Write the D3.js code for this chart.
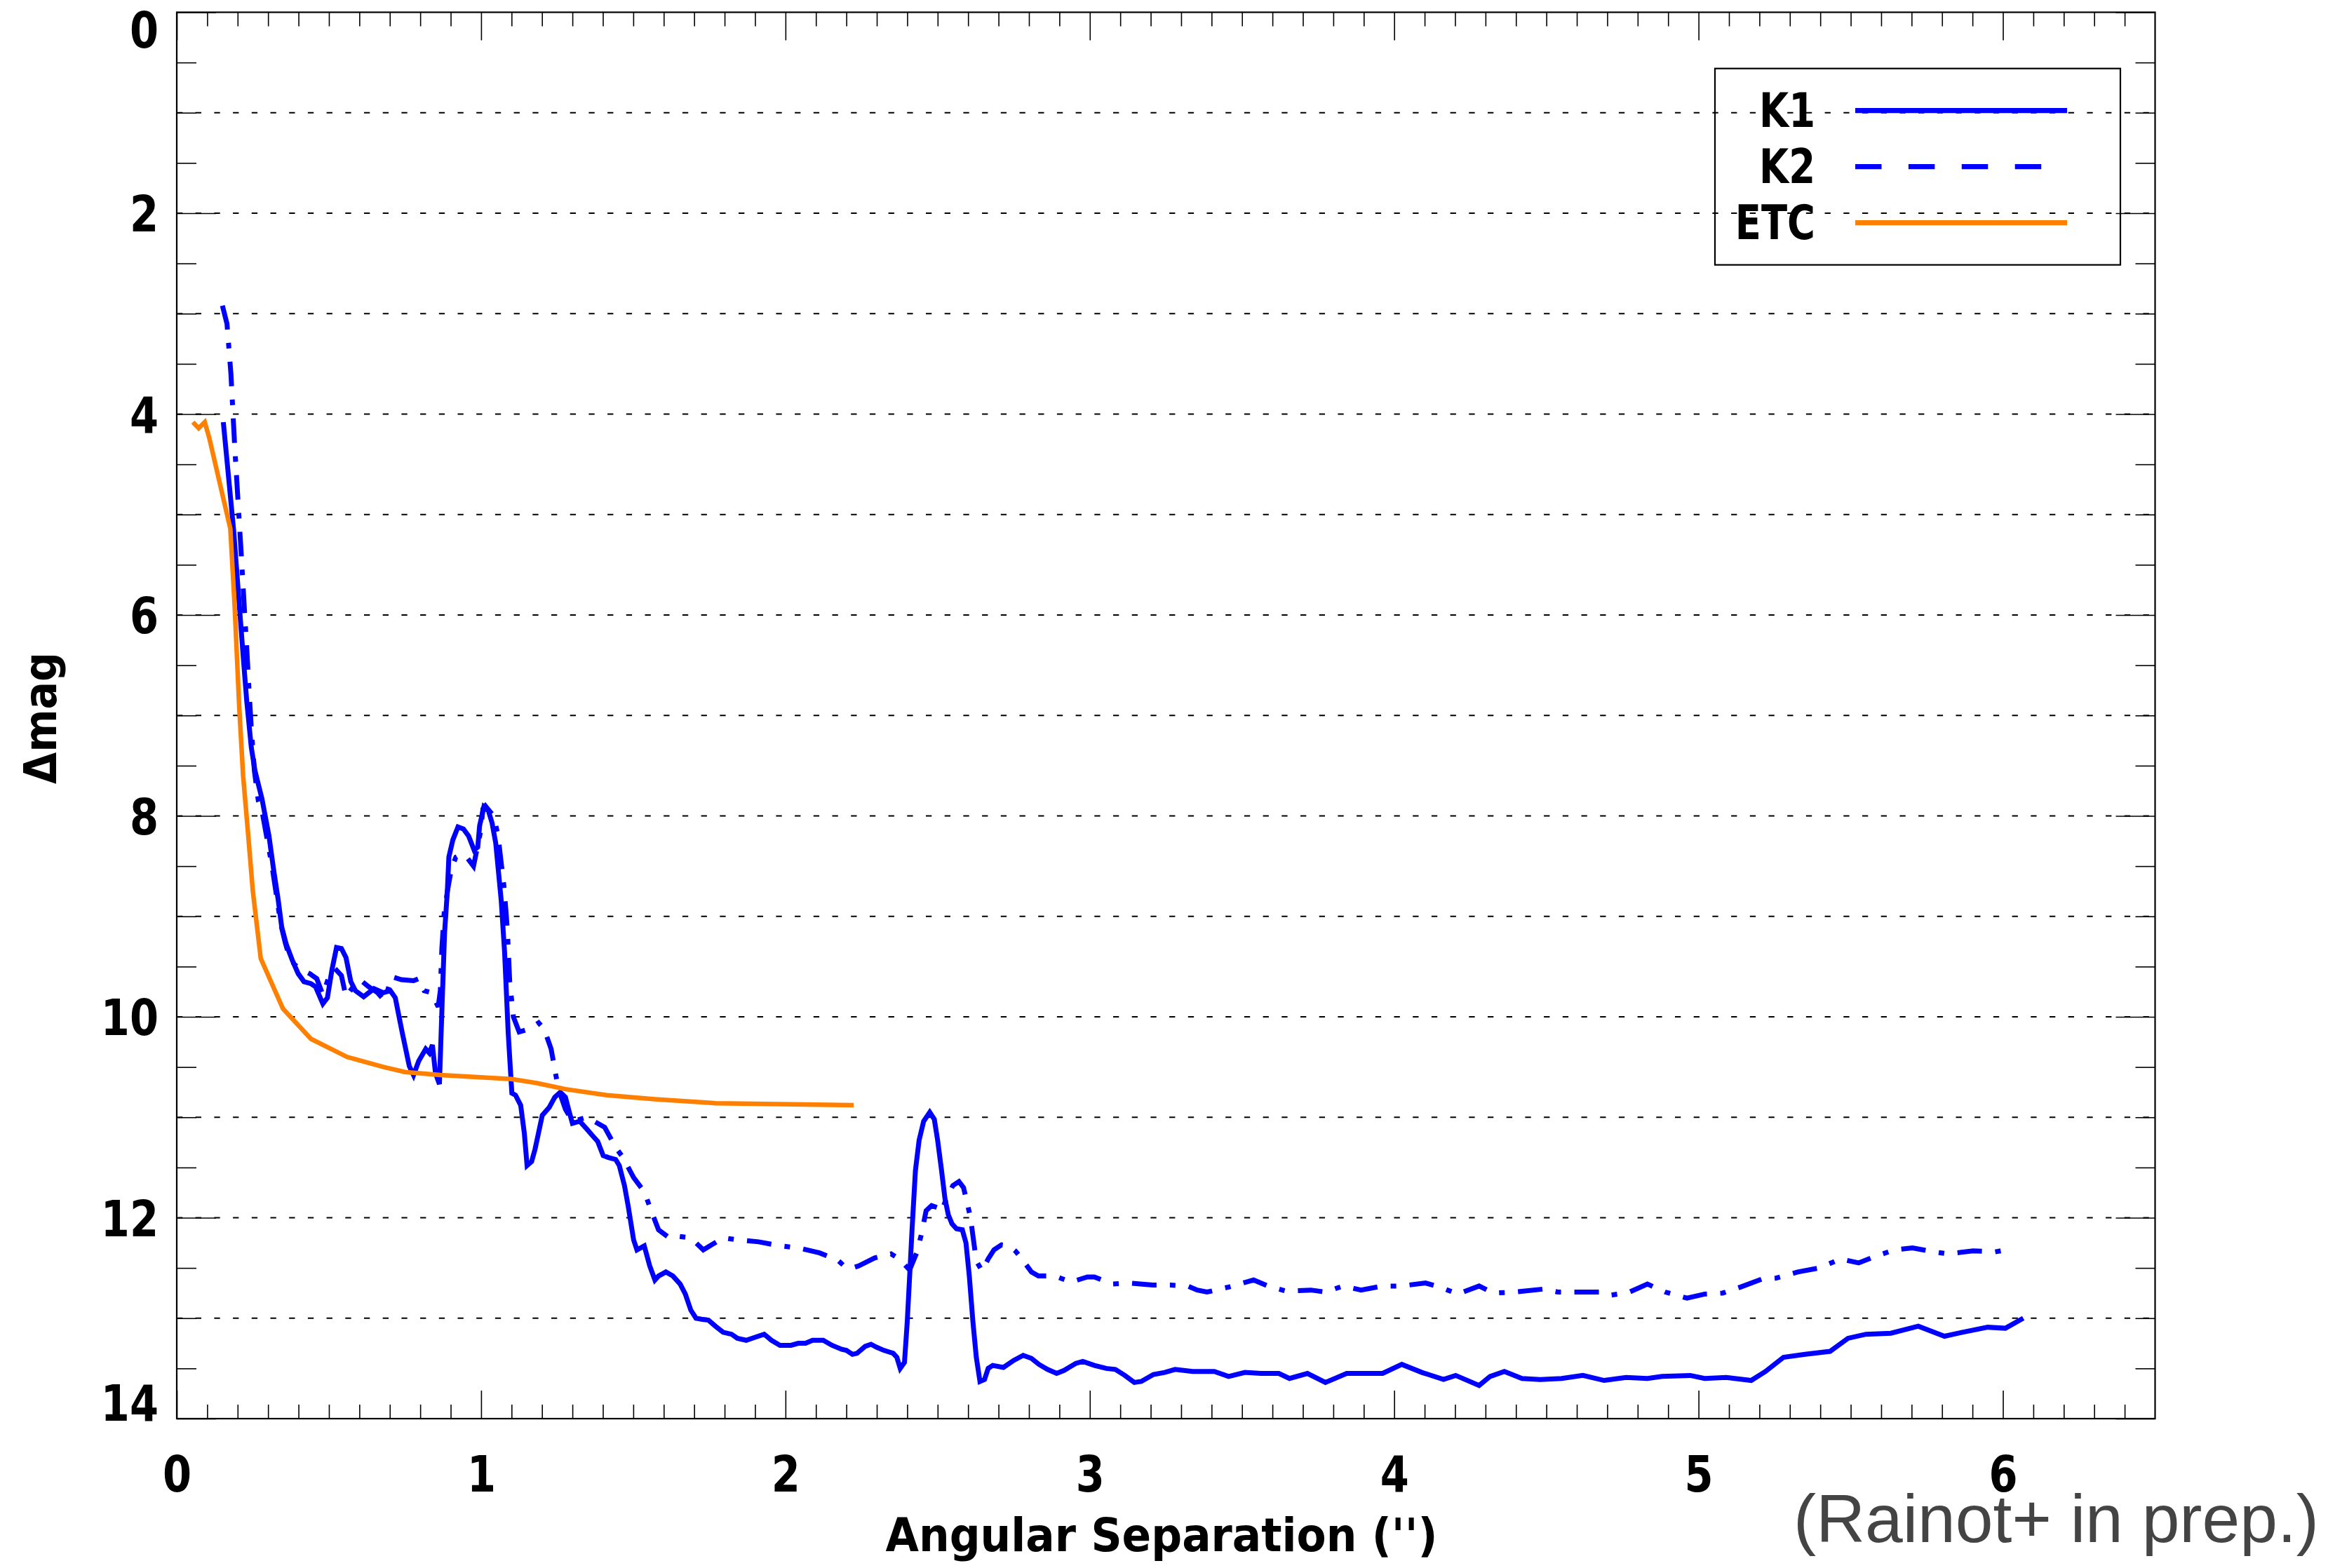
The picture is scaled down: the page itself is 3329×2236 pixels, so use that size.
<!DOCTYPE html>
<html><head><meta charset="utf-8">
<script src="https://cdn.jsdelivr.net/npm/d3@7"></script>
<style>body{margin:0;background:#fff}</style>
</head><body>
<svg id="c" width="3329" height="2236" xmlns="http://www.w3.org/2000/svg"></svg>
<script>
// ---------------- data (separation in arcsec, delta-mag) ----------------
const k1 = [[0.153,4.08],[0.187,5.16],[0.203,5.8],[0.218,6.4],[0.23,6.86],[0.245,7.32],[0.257,7.55],[0.28,7.83],[0.303,8.2],[0.318,8.53],[0.333,8.83],[0.345,9.11],[0.36,9.28],[0.38,9.44],[0.399,9.57],[0.418,9.65],[0.441,9.67],[0.456,9.70],[0.48,9.87],[0.495,9.81],[0.51,9.53],[0.525,9.31],[0.541,9.32],[0.556,9.41],[0.572,9.65],[0.587,9.74],[0.614,9.8],[0.648,9.72],[0.679,9.76],[0.702,9.74],[0.718,9.81],[0.741,10.16],[0.764,10.49],[0.778,10.58],[0.795,10.44],[0.818,10.32],[0.83,10.36],[0.84,10.28],[0.85,10.56],[0.863,10.67],[0.871,9.95],[0.88,9.16],[0.889,8.75],[0.894,8.41],[0.907,8.24],[0.924,8.11],[0.942,8.13],[0.959,8.2],[0.977,8.34],[0.989,8.31],[0.995,8.1],[1.009,7.91],[1.024,7.95],[1.036,8.07],[1.048,8.27],[1.066,8.84],[1.077,9.35],[1.089,10.16],[1.101,10.76],[1.113,10.78],[1.13,10.88],[1.142,11.16],[1.151,11.48],[1.166,11.44],[1.177,11.32],[1.201,10.98],[1.224,10.9],[1.242,10.8],[1.26,10.75],[1.277,10.8],[1.289,10.94],[1.3,11.06],[1.324,11.04],[1.348,11.12],[1.365,11.18],[1.383,11.24],[1.401,11.38],[1.418,11.4],[1.442,11.42],[1.454,11.48],[1.471,11.68],[1.483,11.88],[1.501,12.22],[1.512,12.32],[1.536,12.28],[1.554,12.48],[1.571,12.62],[1.583,12.58],[1.607,12.54],[1.63,12.58],[1.654,12.66],[1.671,12.76],[1.689,12.92],[1.706,13.0],[1.724,13.01],[1.747,13.02],[1.77,13.08],[1.795,13.14],[1.823,13.16],[1.842,13.2],[1.871,13.22],[1.9,13.19],[1.93,13.16],[1.954,13.22],[1.982,13.27],[2.018,13.27],[2.042,13.25],[2.066,13.25],[2.089,13.22],[2.124,13.22],[2.153,13.27],[2.185,13.31],[2.2,13.32],[2.22,13.36],[2.235,13.35],[2.262,13.28],[2.281,13.26],[2.3,13.29],[2.323,13.32],[2.354,13.35],[2.366,13.39],[2.377,13.5],[2.391,13.44],[2.4,13.04],[2.408,12.58],[2.416,12.11],[2.427,11.53],[2.439,11.23],[2.454,11.04],[2.474,10.95],[2.489,11.02],[2.5,11.23],[2.512,11.51],[2.524,11.81],[2.535,11.97],[2.547,12.06],[2.562,12.11],[2.581,12.12],[2.593,12.25],[2.604,12.58],[2.616,13.04],[2.627,13.39],[2.639,13.63],[2.654,13.61],[2.666,13.5],[2.681,13.47],[2.716,13.49],[2.75,13.42],[2.781,13.37],[2.808,13.4],[2.833,13.46],[2.861,13.51],[2.891,13.55],[2.915,13.52],[2.954,13.45],[2.977,13.43],[3.015,13.47],[3.054,13.5],[3.084,13.51],[3.115,13.57],[3.146,13.64],[3.169,13.63],[3.209,13.56],[3.246,13.54],[3.28,13.51],[3.338,13.53],[3.374,13.53],[3.409,13.53],[3.456,13.58],[3.51,13.54],[3.562,13.55],[3.621,13.55],[3.656,13.6],[3.715,13.55],[3.774,13.64],[3.844,13.55],[3.962,13.55],[4.025,13.46],[4.091,13.54],[4.162,13.61],[4.202,13.57],[4.279,13.67],[4.315,13.58],[4.362,13.53],[4.42,13.6],[4.48,13.61],[4.55,13.6],[4.62,13.57],[4.69,13.62],[4.762,13.59],[4.832,13.6],[4.88,13.58],[4.973,13.57],[5.02,13.6],[5.091,13.59],[5.173,13.62],[5.22,13.53],[5.279,13.39],[5.35,13.36],[5.432,13.33],[5.491,13.2],[5.55,13.16],[5.632,13.15],[5.722,13.08],[5.808,13.18],[5.867,13.14],[5.95,13.09],[6.008,13.1],[6.067,13.0]];

const k2 = [[0.15,2.92],[0.165,3.1],[0.178,3.6],[0.19,4.3],[0.2,4.8],[0.212,5.4],[0.222,5.93],[0.23,6.33],[0.237,6.72],[0.245,7.13],[0.255,7.55],[0.268,7.85],[0.28,7.95],[0.298,8.25],[0.313,8.5],[0.328,8.8],[0.342,9.08],[0.357,9.27],[0.372,9.42],[0.387,9.48],[0.41,9.53],[0.437,9.57],[0.46,9.62],[0.48,9.78],[0.5,9.6],[0.52,9.52],[0.541,9.59],[0.556,9.8],[0.575,9.72],[0.602,9.63],[0.63,9.7],[0.66,9.76],[0.683,9.84],[0.706,9.6],[0.738,9.63],[0.778,9.64],[0.795,9.62],[0.813,9.74],[0.836,9.76],[0.859,9.9],[0.866,9.74],[0.871,9.32],[0.879,8.95],[0.891,8.72],[0.902,8.53],[0.917,8.41],[0.937,8.38],[0.955,8.42],[0.975,8.5],[0.998,8.16],[1.006,7.93],[1.014,7.9],[1.041,8.0],[1.056,8.2],[1.063,8.39],[1.075,8.7],[1.083,9.0],[1.087,9.18],[1.094,9.65],[1.102,9.88],[1.106,10.0],[1.125,10.15],[1.159,10.12],[1.189,10.06],[1.207,10.12],[1.23,10.32],[1.242,10.52],[1.254,10.72],[1.277,10.92],[1.3,11.04],[1.348,11.0],[1.406,11.1],[1.442,11.3],[1.466,11.4],[1.501,11.6],[1.536,11.74],[1.56,11.94],[1.583,12.12],[1.618,12.2],[1.636,12.18],[1.689,12.2],[1.73,12.32],[1.795,12.2],[1.842,12.22],[1.912,12.24],[1.983,12.28],[2.042,12.3],[2.112,12.35],[2.171,12.42],[2.2,12.5],[2.22,12.5],[2.24,12.48],[2.293,12.4],[2.347,12.36],[2.374,12.41],[2.408,12.52],[2.431,12.35],[2.447,12.16],[2.462,11.93],[2.48,11.88],[2.5,11.9],[2.512,11.94],[2.53,11.8],[2.55,11.68],[2.57,11.64],[2.585,11.7],[2.596,11.84],[2.608,12.0],[2.619,12.25],[2.627,12.43],[2.646,12.53],[2.666,12.41],[2.685,12.32],[2.71,12.27],[2.735,12.28],[2.755,12.33],[2.777,12.41],[2.808,12.54],[2.831,12.58],[2.885,12.58],[2.938,12.64],[2.992,12.59],[3.015,12.59],[3.073,12.66],[3.131,12.65],[3.207,12.67],[3.265,12.67],[3.322,12.68],[3.353,12.72],[3.385,12.74],[3.456,12.69],[3.538,12.62],[3.585,12.68],[3.644,12.73],[3.726,12.72],[3.774,12.74],[3.832,12.68],[3.891,12.72],[3.962,12.68],[4.021,12.68],[4.103,12.65],[4.15,12.69],[4.209,12.76],[4.279,12.68],[4.326,12.75],[4.397,12.74],[4.491,12.71],[4.538,12.74],[4.585,12.74],[4.644,12.74],[4.691,12.74],[4.714,12.77],[4.773,12.74],[4.832,12.66],[4.891,12.74],[4.962,12.8],[5.02,12.76],[5.079,12.75],[5.138,12.69],[5.209,12.61],[5.256,12.6],[5.326,12.54],[5.397,12.5],[5.467,12.41],[5.526,12.45],[5.585,12.38],[5.644,12.32],[5.703,12.3],[5.773,12.34],[5.82,12.36],[5.902,12.33],[5.973,12.34],[6.032,12.31]];

const etc = [[0.053,4.08],[0.072,4.14],[0.092,4.08],[0.107,4.24],[0.176,5.14],[0.19,5.9],[0.205,6.9],[0.218,7.6],[0.235,8.2],[0.25,8.75],[0.276,9.42],[0.349,9.92],[0.441,10.22],[0.56,10.4],[0.68,10.5],[0.75,10.55],[0.866,10.58],[1.1,10.62],[1.183,10.66],[1.277,10.72],[1.413,10.78],[1.571,10.82],[1.771,10.86],[2.224,10.88]];

const xTicks = [0,1,2,3,4,5,6];
const xTickLabels = ["0","1","2","3","4","5","6"];
const yTicks = [0,2,4,6,8,10,12,14];
const yTickLabels = ["0","2","4","6","8","10","12","14"];
const gridValues = [1,2,3,4,5,6,7,8,9,10,11,12,13];
const legendLabels = ["K1","K2","ETC"];

// ---------------- layout ----------------
const L = 252, R = 3072.5, T = 17.5, B = 2023;
const svg = d3.select("#c");
const x = d3.scaleLinear().domain([0, 6.5]).range([L, R]);
const y = d3.scaleLinear().domain([0, 14]).range([T, B]);
const tickFont = "'DejaVu Sans', 'Liberation Sans', sans-serif";
const BLUE = "#0000ff", ORANGE = "#ff8000";
const SQ = 0.82; // horizontal squeeze for the narrow vector-like labels

// grid lines
svg.append("g").selectAll("line").data(gridValues).join("line")
  .attr("x1", L).attr("x2", R)
  .attr("y1", d => y(d)).attr("y2", d => y(d))
  .attr("stroke", "#000").attr("stroke-width", 1.8)
  .attr("stroke-dasharray", "8.3,18.4");

const xMinor = d3.range(1, 65).map(i => i / 10).filter(v => Math.abs(v - Math.round(v)) > 1e-6);
const yMinor = d3.range(1, 28).map(i => i / 2).filter(v => v % 2 !== 0);

function styleAxis(g) {
  g.select(".domain").remove();
  g.selectAll(".tick line").attr("stroke", "#000").attr("stroke-width", 1.6);
}

// bottom
svg.append("g").attr("transform", `translate(0,${B})`)
  .call(d3.axisBottom(x).tickValues(xMinor).tickSize(-20).tickFormat(""))
  .call(styleAxis);
const bx = svg.append("g").attr("transform", `translate(0,${B})`)
  .call(d3.axisBottom(x).tickValues(xTicks).tickSize(-40).tickFormat((d, i) => xTickLabels[i]))
  .call(styleAxis);
bx.selectAll(".tick text").attr("y", 104).attr("dy", null)
  .attr("transform", `scale(${SQ},1)`)
  .attr("font-family", tickFont).attr("font-weight", "bold").attr("font-size", 72).attr("fill", "#000");

// top
svg.append("g").attr("transform", `translate(0,${T})`)
  .call(d3.axisTop(x).tickValues(xMinor).tickSize(-20).tickFormat(""))
  .call(styleAxis);
svg.append("g").attr("transform", `translate(0,${T})`)
  .call(d3.axisTop(x).tickValues(xTicks).tickSize(-40).tickFormat(""))
  .call(styleAxis);

// left
svg.append("g").attr("transform", `translate(${L},0)`)
  .call(d3.axisLeft(y).tickValues(yMinor).tickSize(-28).tickFormat(""))
  .call(styleAxis);
const ly = svg.append("g").attr("transform", `translate(${L},0)`)
  .call(d3.axisLeft(y).tickValues(yTicks).tickSize(-56).tickPadding(26).tickFormat((d, i) => yTickLabels[i]))
  .call(styleAxis);
ly.selectAll(".tick text")
  .attr("font-family", tickFont).attr("font-weight", "bold").attr("font-size", 72).attr("fill", "#000")
  .attr("x", -26 / SQ).attr("transform", `scale(${SQ},1)`)
  .attr("dy", "0.36em")
  .attr("y", d => { const c = y(d); const cc = Math.min(Math.max(c, T + 24), B - 23); return cc - c; });

// right
svg.append("g").attr("transform", `translate(${R},0)`)
  .call(d3.axisRight(y).tickValues(yMinor).tickSize(-28).tickFormat(""))
  .call(styleAxis);
svg.append("g").attr("transform", `translate(${R},0)`)
  .call(d3.axisRight(y).tickValues(yTicks).tickSize(-56).tickFormat(""))
  .call(styleAxis);

// frame
svg.append("rect").attr("x", L).attr("y", T).attr("width", R - L).attr("height", B - T)
  .attr("fill", "none").attr("stroke", "#000").attr("stroke-width", 2.2);

// curves
const line = d3.line().x(d => x(d[0])).y(d => y(d[1]));
svg.append("path").datum(k1).attr("d", line)
  .attr("fill", "none").attr("stroke", BLUE).attr("stroke-width", 7)
  .attr("stroke-linejoin", "miter").attr("stroke-miterlimit", 3);
svg.append("path").datum(k2).attr("d", line)
  .attr("fill", "none").attr("stroke", BLUE).attr("stroke-width", 7)
  .attr("stroke-linejoin", "miter").attr("stroke-miterlimit", 3)
  .attr("stroke-dasharray", "35,19,8,19");
svg.append("path").datum(etc).attr("d", line)
  .attr("fill", "none").attr("stroke", ORANGE).attr("stroke-width", 6.5)
  .attr("stroke-linejoin", "miter").attr("stroke-miterlimit", 3);

// legend
const leg = svg.append("g");
leg.append("rect").attr("x", 2445).attr("y", 97.7).attr("width", 578).attr("height", 280)
  .attr("fill", "none").attr("stroke", "#000").attr("stroke-width", 2.2);
const legStyles = [
  {stroke: BLUE, dash: null},
  {stroke: BLUE, dash: "37.5,38.4"},
  {stroke: ORANGE, dash: null}
];
legendLabels.forEach((lab, i) => {
  const ly0 = 157.7 + i * 80;
  leg.append("line").attr("x1", 2645).attr("x2", 2947).attr("y1", ly0).attr("y2", ly0)
    .attr("stroke", legStyles[i].stroke).attr("stroke-width", 7.3)
    .attr("stroke-dasharray", legStyles[i].dash);
  leg.append("text").attr("transform", `translate(2588,${ly0 + 23}) scale(0.8,1)`)
    .attr("text-anchor", "end").attr("font-family", tickFont).attr("font-weight", "bold")
    .attr("font-size", 68).attr("fill", "#000").text(lab);
});

// axis titles
svg.append("text").attr("x", 1656).attr("y", 2212).attr("text-anchor", "middle")
  .attr("font-family", tickFont).attr("font-weight", "bold").attr("font-size", 66).attr("fill", "#000")
  .attr("textLength", 787).attr("lengthAdjust", "spacingAndGlyphs")
  .text("Angular Separation ('')");
svg.append("text").attr("transform", "translate(80,1024) rotate(-90)")
  .attr("text-anchor", "middle").attr("font-family", tickFont).attr("font-weight", "bold")
  .attr("font-size", 64).attr("fill", "#000")
  .attr("textLength", 188).attr("lengthAdjust", "spacingAndGlyphs").text("Δmag");

// credit
svg.append("text").attr("x", 2557).attr("y", 2199)
  .attr("font-family", "'Liberation Sans', Arial, sans-serif").attr("font-size", 97)
  .attr("fill", "#444").attr("textLength", 749).attr("lengthAdjust", "spacingAndGlyphs")
  .text("(Rainot+ in prep.)");
</script>
</body></html>
